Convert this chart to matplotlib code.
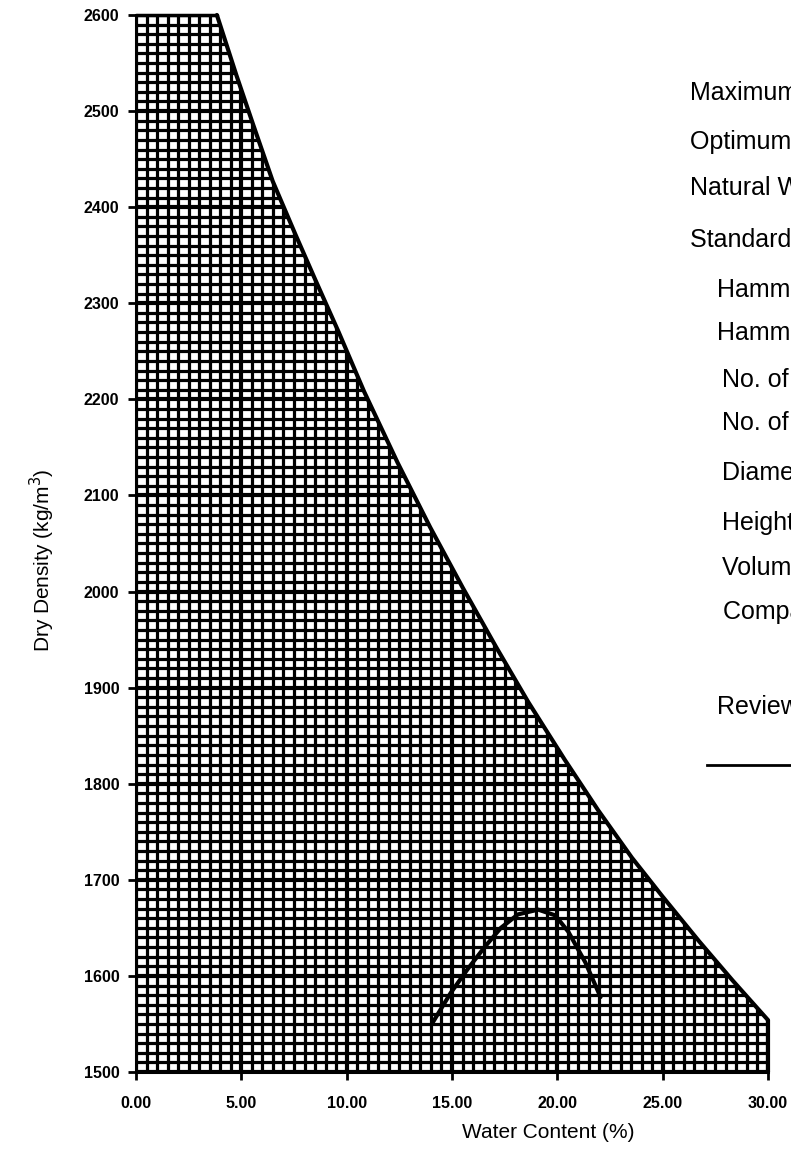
import matplotlib
matplotlib.use("Agg")
import matplotlib.pyplot as plt
from matplotlib.patches import Polygon
from matplotlib.collections import LineCollection

plt.rcParams['font.family'] = ['Liberation Sans', 'DejaVu Sans']

# ---- data ----
zav_w = [3.84, 4.77, 5.56, 6.49, 7.56, 8.50, 9.62, 10.83, 12.42, 13.96, 15.51,
         17.10, 18.62, 20.35, 21.95, 23.54, 24.98, 26.73, 28.33, 30.0]
zav_rho = [2600, 2537, 2486, 2427, 2372, 2325, 2270, 2208, 2134, 2067, 2004,
           1942, 1885, 1825, 1772, 1723, 1683, 1636, 1595, 1554]

comp_w = [14.07, 14.93, 15.74, 16.55, 17.32, 18.13, 19.09, 19.90, 20.52, 21.33, 22.05]
comp_rho = [1551, 1582, 1607, 1630, 1650, 1664, 1669, 1663, 1646, 1614, 1578]

x_ticks = [0, 5, 10, 15, 20, 25, 30]
x_ticklabels = ["0.00", "5.00", "10.00", "15.00", "20.00", "25.00", "30.00"]
y_ticks = [1500, 1600, 1700, 1800, 1900, 2000, 2100, 2200, 2300, 2400, 2500, 2600]

side_texts = ["Maximum Dry Density", "Optimum Water Content", "Natural Water Content",
              "Standard Compaction Test", "Hammer Mass", "Hammer Drop",
              "No. of Layers", "No. of Blows per Layer", "Diameter of Mould",
              "Height of Mould", "Volume of Mould", "Compactive Effort", "Reviewed by"]
side_x = [690, 690, 690, 690, 717, 717, 722, 722, 722, 722, 722, 723, 717]
side_y = [93, 142, 188, 240, 290, 333, 380, 423, 473, 523, 568, 612, 707]

W, H = 791, 1157
fig = plt.figure(figsize=(W / 100, H / 100), dpi=100)
left, right, top, bottom = 136, 768, 15, 1072
ax = fig.add_axes([left / W, 1 - bottom / H, (right - left) / W, (bottom - top) / H])
ax.set_xlim(0, 30)
ax.set_ylim(1500, 2600)

# polygon of the shaded region (below the zero-air-voids curve)
verts = [(0, 1500), (0, 2600)] + list(zip(zav_w, zav_rho)) + [(30, 1500)]
poly = Polygon(verts, closed=True, facecolor='white', edgecolor='none')
ax.add_patch(poly)

# grid lines clipped to the polygon
minor_segs, major_segs = [], []
for i in range(0, 61):
    xv = i * 0.5
    seg = [(xv, 1500), (xv, 2600)]
    (major_segs if i % 10 == 0 else minor_segs).append(seg)
for j in range(0, 111):
    yv = 1500 + j * 10
    seg = [(0, yv), (30, yv)]
    (major_segs if j % 10 == 0 else minor_segs).append(seg)
lc1 = LineCollection(minor_segs, colors='black', linewidths=2.3)
lc2 = LineCollection(major_segs, colors='black', linewidths=3.0)
for lc in (lc1, lc2):
    ax.add_collection(lc)
    lc.set_clip_path(poly)

# outline of region
ax.plot([0, zav_w[0]], [2600, 2600], color='black', lw=2.5, clip_on=False, solid_capstyle='round')
ax.plot(zav_w + [30], zav_rho + [1500], color='black', lw=3.0,
        clip_on=False, solid_joinstyle='round', solid_capstyle='round')

# compaction curve
ax.plot(comp_w, comp_rho, color='black', lw=3.0, solid_capstyle='round', solid_joinstyle='round')

for s in ['top', 'right']:
    ax.spines[s].set_visible(False)
for s in ['left', 'bottom']:
    ax.spines[s].set_linewidth(2.2)
    ax.spines[s].set_color('black')

ax.set_xticks(x_ticks)
ax.set_xticklabels(x_ticklabels)
ax.set_yticks(y_ticks)
ax.tick_params(axis='both', direction='out', length=6, width=2, colors='black')
for lab in ax.get_xticklabels() + ax.get_yticklabels():
    lab.set_fontsize(11.5)
    lab.set_fontweight('bold')
ax.tick_params(axis='x', pad=11)
ax.tick_params(axis='y', pad=6)

fig.text(548 / W, 1 - 1132 / H, "Water Content (%)", fontsize=15, ha='center', va='center')
fig.text(42 / W, 1 - 560 / H, "Dry Density (kg/m$^3$)", fontsize=15, ha='center', va='center',
         rotation=90)

for t, xp, yp in zip(side_texts, side_x, side_y):
    fig.text(xp / W, 1 - yp / H, t, fontsize=18, va='center', ha='left', color='black')

fig.add_artist(plt.Line2D([707 / W, 1.0], [1 - 765 / H, 1 - 765 / H], color='black', lw=2.0))

fig.savefig("out.png", dpi=100)
